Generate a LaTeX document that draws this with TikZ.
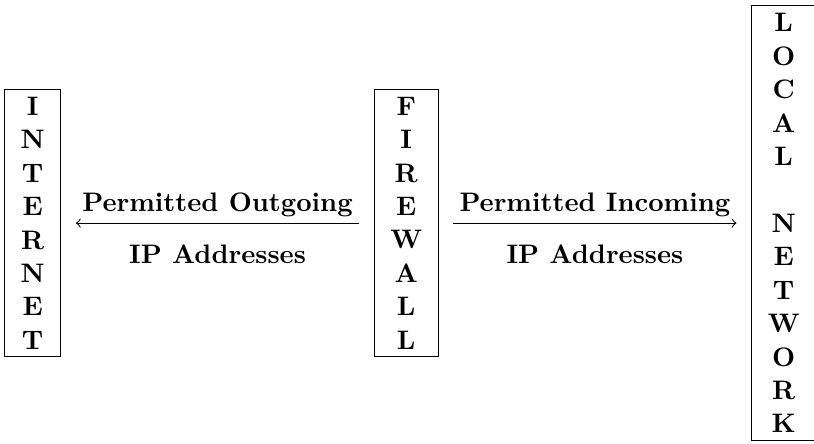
\documentclass[tikz,border=0pt]{standalone}
\usetikzlibrary{calc}

\tikzstyle{block}=[draw, align=center, font=\bfseries\fontsize{10}{12.5}\selectfont, inner xsep=6pt, inner ysep=2.8pt]
\tikzstyle{arrow}=[->]
\tikzstyle{note}=[midway, inner sep=0pt, font=\bfseries]

\begin{document}
\begin{tikzpicture}
      \node[block] (internet) at (0, 0) {I\\N\\T\\E\\R\\N\\E\\T};
      \node[block] (firewall) at (4.91, 0) {F\\I\\R\\E\\W\\A\\L\\L};
      \node[block] (local) at (9.87, 0) {L\\O\\C\\A\\L\\~\\N\\E\\T\\W\\O\\R\\K};

      \draw[arrow, shorten <=5.5pt, shorten >=5.5pt] (firewall) to
        node[note, above=2.3pt] {Permitted Outgoing}
        node[note, below=8.1pt] {IP Addresses} (internet);
      \draw[arrow, shorten <=5.5pt, shorten >=5.5pt] (firewall) to
        node[note, above=2.3pt] {Permitted Incoming}
        node[note, below=8.1pt] {IP Addresses} (local);

      \pgfresetboundingbox
      \path[use as bounding box] ($(internet.west |- local.north)+(-1.5pt,2pt)$) rectangle ($(local.south east)+(-0.8pt,-0.8pt)$);
    \end{tikzpicture}
\end{document}
